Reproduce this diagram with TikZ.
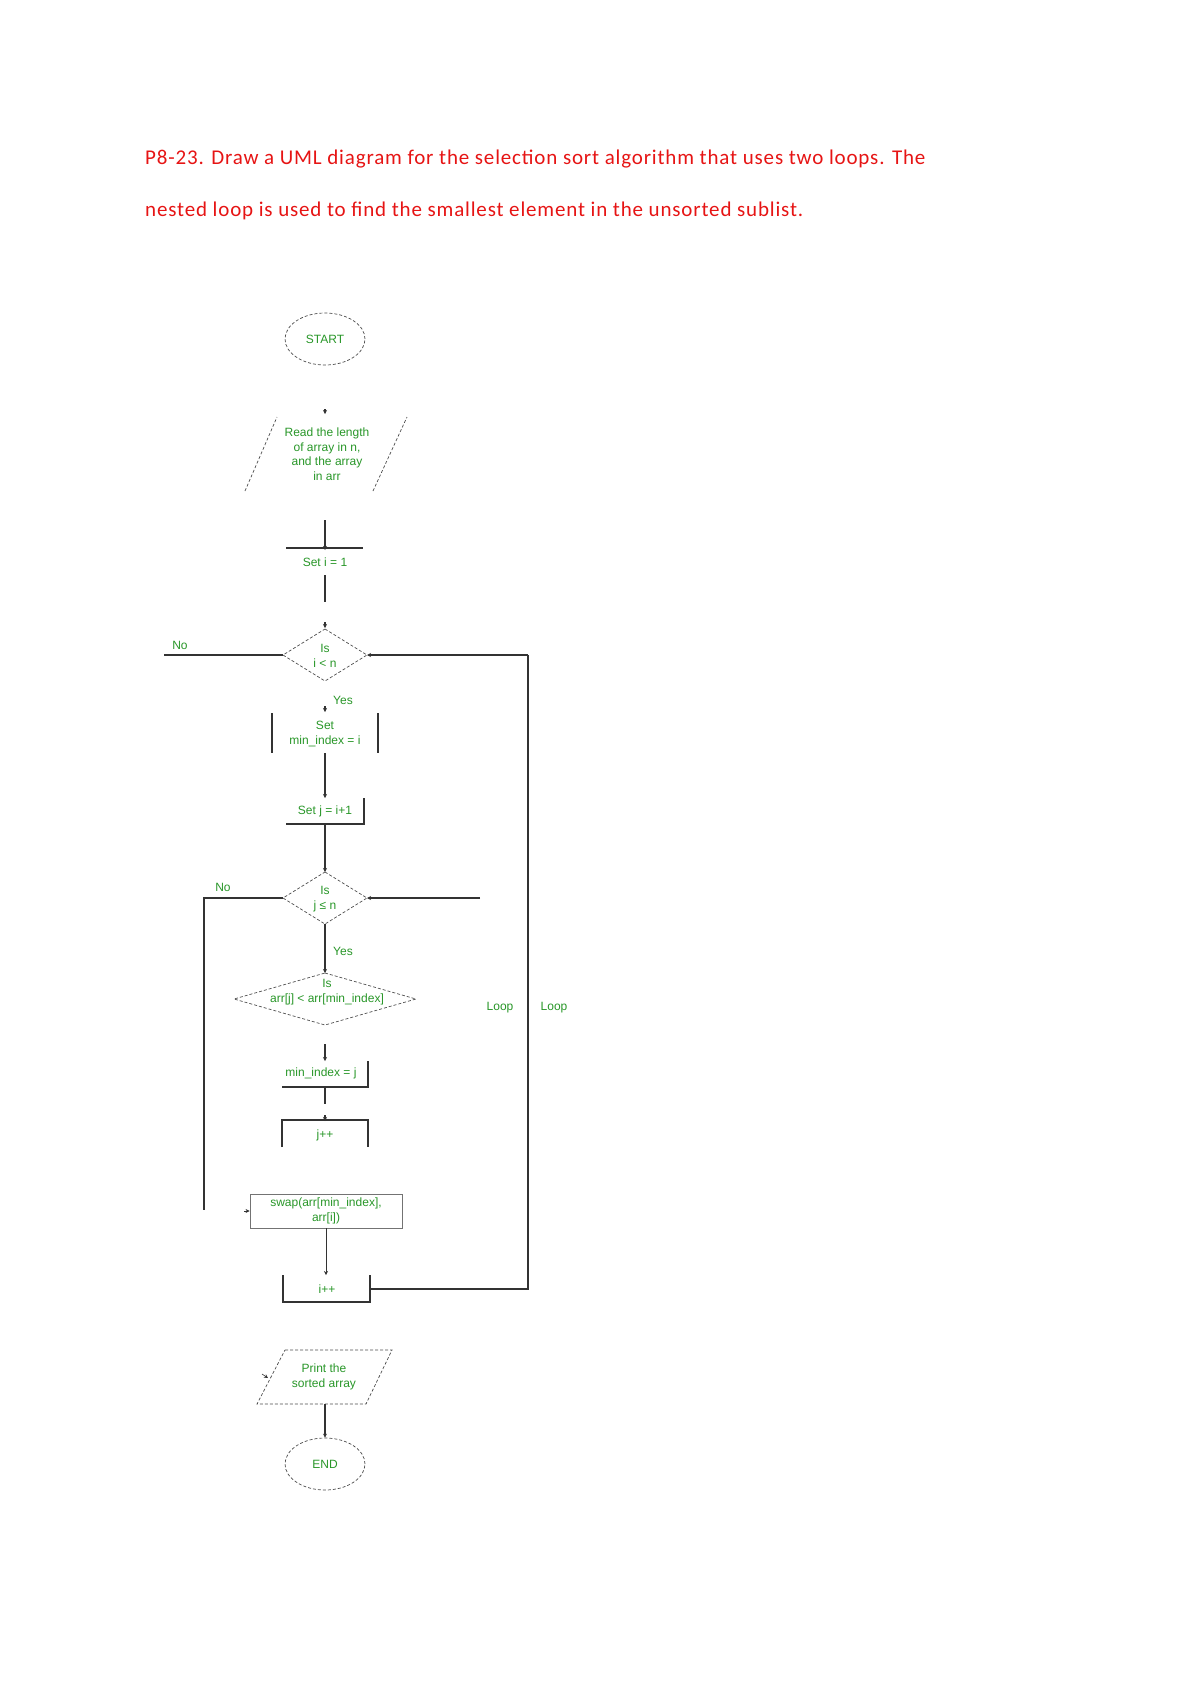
\documentclass[tikz,border=0pt]{standalone}
\usepackage{fontspec}
\setmainfont{Liberation Sans}
\newfontfamily\titlefont{Carlito}
\usetikzlibrary{arrows.meta,shapes.geometric}
\definecolor{tgreen}{RGB}{40,150,40}
\definecolor{tred}{RGB}{230,20,20}
\begin{document}
\begin{tikzpicture}[x=1pt,y=-1pt,
  lbl/.style={text=tgreen,font=\fontsize{12}{14.5}\selectfont,align=center,inner sep=0},
  ln/.style={draw=black!80,line width=1.2pt},
  dsh/.style={draw=black!70,densely dashed,line width=0.7pt},
  arr/.style={ln,-{Stealth[length=4pt,width=4pt]}},
  ttl/.style={text=tred,font=\titlefont\fontsize{21}{24}\selectfont,anchor=west,inner sep=0}]
\useasboundingbox (0,0) rectangle (1200,1698);
\node[ttl] (t1) at (145,159) {\addfontfeature{LetterSpace=4}P8-23. Draw a UML diagram for the selection sort algorithm that uses two loops. The};
\node[ttl] (t2) at (145,211) {\addfontfeature{LetterSpace=4}nested loop is used to find the smallest element in the unsorted sublist.};
% START
\node[dsh,ellipse,minimum width=80,minimum height=52,inner sep=0,lbl] (start) at (325,339) {START};
% read
\draw[dsh] (245,491) -- (277,417) (373,491) -- (407,417);
\node[lbl] (read) at (327,454) {Read the length\\of array in n,\\and the array\\in arr};
\coordinate (ra) at (325,409); \coordinate (rb) at (325,414);
\draw[arr] (ra) -- (rb);
% set i
\coordinate (a1) at (325,520); \coordinate (a2) at (325,550);
\draw[arr] (a1) -- (a2);
\draw[ln] (286,548) -- (363,548);
\node[lbl] (seti) at (325,562) {Set i = 1};
\coordinate (b1) at (325,575); \coordinate (b2) at (325,602);
\draw[ln] (b1) -- (b2);
\coordinate (b3) at (325,622); \coordinate (b4) at (325,628);
\draw[arr] (b3) -- (b4);
% diamond i<n
\draw[dsh] (325,629) coordinate (d1t) -- (367,655) coordinate (d1r) -- (325,681) coordinate (d1b) -- (283,655) coordinate (d1l) -- cycle;
\node[lbl] (d1) at (325,656) {Is\\i < n};
\coordinate (no1) at (164,655);
\draw[ln] (d1l) -- (no1);
\node[lbl] (no1l) at (180,645) {No};
\coordinate (lp1) at (528,655); \coordinate (lp2) at (528,1289);
\draw[arr] (lp1) -- (d1r);
\node[lbl] (yes1) at (343,700) {Yes};
\coordinate (y1a) at (325,706); \coordinate (y1b) at (325,712);
\draw[arr] (y1a) -- (y1b);
% set min_index
\draw[ln] (272,713) -- (272,753) (378,713) -- (378,753);
\node[lbl] (setmin) at (325,734) {Set\\min\_index = i};
\coordinate (c1) at (325,753); \coordinate (c2) at (325,798);
\draw[arr] (c1) -- (c2);
% set j
\draw[ln] (286,824) -- (364,824) -- (364,798);
\node[lbl] (setj) at (325,811) {Set j = i+1};
\coordinate (e1) at (325,824); \coordinate (e2) at (325,872);
\draw[arr] (e1) -- (e2);
% diamond j<=n
\draw[dsh] (325,872) coordinate (d2t) -- (367,898) coordinate (d2r) -- (325,924) coordinate (d2b) -- (283,898) coordinate (d2l) -- cycle;
\node[lbl] (d2) at (325,899) {Is\\j ≤ n};
\coordinate (n2a) at (204,898); \coordinate (n2b) at (204,1210);
\draw[ln] (d2l) -- (n2a) -- (n2b);
\node[lbl] (no2l) at (223,887) {No};
\coordinate (r2) at (480,898);
\draw[arr] (r2) -- (d2r);
\coordinate (d3t) at (325,973);
\draw[arr] (d2b) -- (d3t);
\node[lbl] (yes2) at (343,951) {Yes};
% diamond arr
\draw[dsh] (325,973) -- (416,999) -- (325,1025) -- (234,999) -- cycle;
\node[lbl] (d3) at (327,992) {Is\\arr[j] < arr[min\_index]};
\node[lbl] (loop1) at (500,1008) {Loop};
\node[lbl] (loop2) at (554,1008) {Loop};
\coordinate (f1) at (325,1044); \coordinate (f2) at (325,1061);
\draw[arr] (f1) -- (f2);
% min_index = j
\draw[ln] (282,1087) -- (368,1087) -- (368,1061);
\node[lbl] (minj) at (321,1073) {min\_index = j};
\coordinate (g1) at (325,1087); \coordinate (g2) at (325,1104);
\draw[ln] (g1) -- (g2);
\coordinate (g3) at (325,1115); \coordinate (g4) at (325,1121);
\draw[arr] (g3) -- (g4);
% j++
\draw[ln] (282,1147) -- (282,1120) -- (368,1120) -- (368,1147);
\node[lbl] (jpp) at (325,1135) {j++};
% swap
\node[draw=black!55,line width=0.9pt,minimum width=152,minimum height=34,lbl] (swap) at (326,1211) {swap(arr[min\_index],\\arr[i])};
\coordinate (s0) at (244,1211);
\draw[arr,line width=0.6pt] (s0) -- (swap.west);
\coordinate (ipt) at (326,1275);
\draw[arr,line width=0.8pt] (swap.south) -- (ipt);
% i++
\draw[ln] (283,1275) -- (283,1302) -- (370,1302) -- (370,1275);
\node[lbl] (ipp) at (327,1289) {i++};
\coordinate (ir) at (370,1289);
\draw[ln] (ir) -- (lp2) -- (lp1);
% print
\draw[dsh] (285,1350) -- (392,1350) -- (366,1404) -- (257,1404) -- cycle;
\node[lbl] (print) at (324,1377) {Print the\\sorted array};
\coordinate (p0) at (262,1374); \coordinate (p1) at (268,1378);
\draw[arr,line width=0.6pt] (p0) -- (p1);
\coordinate (pb) at (325,1404);
\node[dsh,ellipse,minimum width=80,minimum height=52,inner sep=0,lbl] (endn) at (325,1464) {END};
\draw[arr] (pb) -- (endn.north);
\end{tikzpicture}
\end{document}
